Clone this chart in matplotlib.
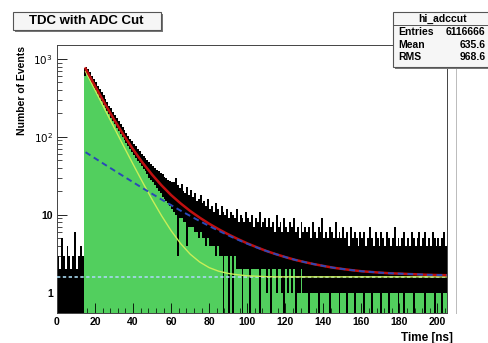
import matplotlib
matplotlib.use('Agg')
import matplotlib.pyplot as plt
from matplotlib.patches import Rectangle
from matplotlib.lines import Line2D
import numpy as np

plt.rcParams['font.family'] = ['Liberation Sans', 'DejaVu Sans']

# --- histogram (1 ns bins, 0..205 ns): lower / upper envelope of the black trace ---
hist_lo = [0, 0, 0, 0, 0, 0, 0, 0, 0, 0, 0, 0, 0, 0,
           600,
           660, 600, 540, 490, 430, 395, 350, 320, 290, 258, 238, 212, 195, 175, 160, 145,
           130, 120, 110, 100, 91, 84, 76, 70, 64, 59, 54, 49, 46, 42, 39, 36, 33, 30, 28, 26,
           24, 22, 20, 19, 17, 16, 15, 14, 13, 12,
           11, 10, 3, 9, 9, 8, 8, 4, 7, 7,
           7, 6, 6, 5, 6, 5, 5, 4, 5, 4,
           4, 4, 3, 4, 3, 3, 0, 3, 3, 0,
           3, 0, 3, 2, 2, 2, 0, 2, 2, 2,
           0, 2, 2, 2, 2, 0, 2, 2, 2, 1,
           2, 0, 2, 2, 1, 2, 2, 1, 0, 2,
           1, 2, 1, 2, 0, 1, 1, 2, 1, 1,
           1, 0, 1, 1, 1, 1, 0, 1, 1, 1,
           1, 1, 0, 1, 1, 1, 1, 0, 1, 1,
           1, 0, 1, 1, 1, 0, 1, 1, 1, 1,
           0, 1, 1, 1, 0, 1, 1, 1, 1, 0,
           1, 1, 1, 0, 1, 1, 1, 1, 0, 1,
           1, 0, 1, 1, 1, 1, 0, 1, 1, 1,
           1, 1, 0, 1, 1, 1, 1, 0, 1, 1,
           1, 0, 1, 1]
hist_hi = [3, 2, 5, 3, 2, 4, 3, 2, 3, 6, 2, 3, 4, 3,
           770,
           800, 740, 680, 610, 560, 500, 455, 410, 375, 340, 305, 280, 252, 232, 210, 190,
           175, 160, 145, 134, 122, 112, 104, 95, 88, 81, 76, 70, 65, 61, 57, 54, 50, 47, 45, 42,
           40, 38, 36, 34, 33, 31, 30, 28, 27, 26,
           26, 30, 24, 22, 25, 20, 19, 23, 18, 21,
           17, 19, 15, 16, 18, 14, 15, 13, 16, 12,
           13, 11, 14, 12, 10, 13, 11, 10, 12, 9,
           11, 10, 9, 12, 8, 10, 9, 8, 11, 9,
           8, 10, 7, 9, 8, 11, 7, 8, 9, 7,
           9, 7, 8, 6, 10, 7, 8, 6, 9, 7,
           6, 8, 7, 9, 6, 7, 5, 8, 6, 7,
           6, 7, 5, 8, 6, 5, 7, 6, 9, 5,
           6, 5, 7, 6, 5, 8, 5, 6, 5, 7,
           5, 6, 4, 7, 5, 6, 5, 4, 6, 5,
           6, 4, 5, 7, 5, 4, 6, 5, 4, 6,
           5, 4, 6, 5, 4, 5, 7, 4, 5, 4,
           5, 6, 4, 5, 4, 6, 5, 4, 5, 6,
           4, 5, 6, 4, 5, 4, 6, 5, 4, 5,
           4, 5, 6, 4]

# --- fit curves, sampled every 5 ns from 15 to 205 ns ---
fit_t = list(range(15, 206, 5))
fit_total = [754, 449, 271, 167, 106, 69.1, 46.6, 32.7, 23.8, 17.9, 14.0, 11.2, 9.2,
             7.68, 6.53, 5.62, 4.90, 4.31, 3.84, 3.44, 3.13, 2.87, 2.65, 2.48, 2.33,
             2.21, 2.10, 2.02, 1.95, 1.89, 1.85, 1.81, 1.78, 1.76, 1.74, 1.72, 1.70,
             1.69, 1.68]
fit_fast = [692, 398, 229, 132, 76.3, 44.5, 26.2, 15.7, 9.7, 6.25, 4.27, 3.13, 2.48,
            2.10, 1.89, 1.77, 1.70, 1.65, 1.63, 1.61, 1.60, 1.60, 1.60, 1.60, 1.60,
            1.60, 1.60, 1.60, 1.60, 1.60, 1.60, 1.60, 1.60, 1.60, 1.60, 1.60, 1.60,
            1.60, 1.60]
fit_slow = [63.6, 53.1, 44.4, 37.2, 31.2, 26.2, 22.0, 18.6, 15.7, 13.3, 11.3, 9.69, 8.32,
            7.18, 6.24, 5.45, 4.80, 4.26, 3.81, 3.44, 3.13, 2.87, 2.65, 2.48, 2.33,
            2.21, 2.10, 2.02, 1.95, 1.89, 1.85, 1.81, 1.78, 1.76, 1.74, 1.72, 1.70,
            1.69, 1.68]
bkg_t = [0, 205]
bkg = [1.6, 1.6]

stats_rows = [('Entries', '6116666'), ('Mean', '635.6'), ('RMS', '968.6')]

W, H = 488, 343
fig = plt.figure(figsize=(W / 100, H / 100), dpi=100)
fig.patch.set_facecolor('white')

def fx(x):
    return x / W

def fy(y):
    return 1 - y / H

ax = fig.add_axes([fx(57), fy(313), fx(447) - fx(57), fy(45) - fy(313)])
ax.set_yscale('log')
ax.set_xlim(0, 205)
ax.set_ylim(0.55, 1510)

floor = 0.3
lo = np.array(hist_lo, dtype=float)
hi = np.array(hist_hi, dtype=float)
left = np.arange(len(lo))
green_h = np.where(lo > 0, lo - floor, 0)
black_bot = np.where(lo > 0, lo, floor)
ax.bar(left, green_h, bottom=floor, width=1.0, align='edge', color='#52cf5e', lw=0, zorder=1)
ax.bar(left, hi - black_bot, bottom=black_bot, width=1.0, align='edge', color='black', lw=0, zorder=2)

ax.plot(bkg_t, bkg, color='#a8d8f0', lw=1.2, ls=(0, (2, 1.5)), zorder=3)
ax.plot(fit_t, fit_fast, color='#c8ee58', lw=1.0, zorder=4)
ax.plot(fit_t, fit_total, color='#c01010', lw=1.8, zorder=5)
ax.plot(fit_t, fit_slow, color='#2a48b8', lw=1.4, ls=(0, (3, 2)), zorder=6)

# ROOT-like axes
ax.set_xticks(range(0, 201, 20))
ax.set_xticks(range(0, 205, 4), minor=True)
ax.set_yticks([1, 10, 100, 1000])
ax.set_yticklabels(['1', '10', '$10^{2}$', '$10^{3}$'])
ax.tick_params(which='both', direction='in', top=False, right=False, labelsize=7.5, pad=3)
ax.tick_params(which='major', length=7, width=0.6)
ax.tick_params(which='minor', length=3.5, width=0.5)
for s in ax.spines.values():
    s.set_linewidth(0.7)
    s.set_color('#444444')
for lab in ax.get_xticklabels() + ax.get_yticklabels():
    lab.set_fontweight('bold')

fig.text(fx(453), fy(338), 'Time [ns]', ha='right', va='center', fontsize=8.5, fontweight='bold')
fig.text(fx(22), fy(46), 'Number of Events', ha='center', va='top', rotation=90,
         fontsize=7.5, fontweight='bold')

# title box
fig.patches.append(Rectangle((fx(15), fy(32)), fx(161) - fx(13), fy(14) - fy(32), transform=fig.transFigure,
                             facecolor='#777777', edgecolor='none', zorder=5))
fig.patches.append(Rectangle((fx(13), fy(30)), fx(161) - fx(13), fy(12) - fy(30), transform=fig.transFigure,
                             facecolor='#f6f6f6', edgecolor='#555555', lw=0.8, zorder=6))
fig.text(fx(86), fy(21.5), 'TDC with ADC Cut', ha='center', va='center', fontsize=9.5,
         fontweight='bold', zorder=7)

# stats box
fig.patches.append(Rectangle((fx(395), fy(69)), fx(520) - fx(393), fy(12) - fy(67), transform=fig.transFigure,
                             facecolor='#777777', edgecolor='none', zorder=5))
fig.patches.append(Rectangle((fx(393), fy(67)), fx(520) - fx(393), fy(12) - fy(67), transform=fig.transFigure,
                             facecolor='#f6f6f6', edgecolor='#555555', lw=0.8, zorder=6))
fig.lines.append(Line2D([fx(393), fx(488)], [fy(25), fy(25)], transform=fig.transFigure,
                        color='#555555', lw=0.7, zorder=7))
fig.text(fx(443), fy(19), 'hi_adccut', ha='center', va='center', fontsize=7.5, fontweight='bold', zorder=7)
for i, (name, val) in enumerate(stats_rows):
    yy = fy(32 + 12.5 * i)
    fig.text(fx(398), yy, name, ha='left', va='center', fontsize=7.5, fontweight='bold', zorder=7)
    fig.text(fx(446 if i == 0 else 460), yy, val, ha='left', va='center', fontsize=7.5,
             fontweight='bold', zorder=7)

fig.lines.append(Line2D([fx(456), fx(456)], [fy(69), fy(313)], transform=fig.transFigure,
                        color='#bbbbbb', lw=0.7))

fig.savefig('out.png', dpi=100)
